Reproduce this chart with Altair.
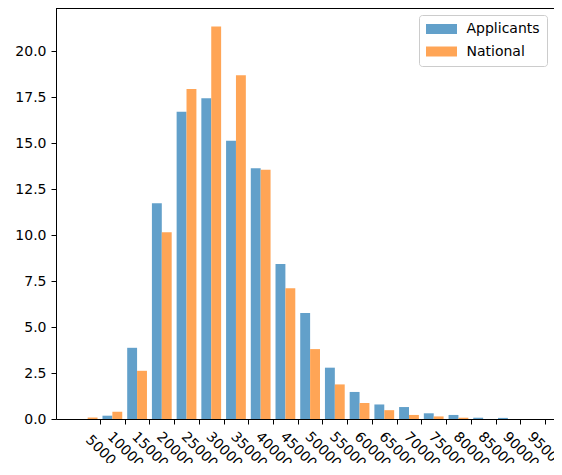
import altair as alt
import pandas as pd

# ---- data ----
bin_starts = list(range(0, 100000, 5000))
applicants = [0.0, 0.18, 3.87, 11.73, 16.70, 17.43, 15.13, 13.63, 8.42, 5.76,
              2.79, 1.47, 0.79, 0.65, 0.31, 0.22, 0.07, 0.06, 0.0, 0.0]
national = [0.08, 0.40, 2.62, 10.15, 17.94, 21.34, 18.68, 13.55, 7.11, 3.80,
            1.88, 0.87, 0.48, 0.22, 0.14, 0.07, 0.0, 0.0, 0.0, 0.0]
series_names = ["Applicants", "National"]
series_colors = ["#62a0ca", "#ffa556"]
x_tick_values = list(range(5000, 100000, 5000))
y_tick_values = [0, 2.5, 5, 7.5, 10, 12.5, 15, 17.5, 20]

rows = []
for i, s in enumerate(bin_starts):
    rows.append({"series": series_names[0], "start": s, "value": applicants[i], "slot": 0})
    rows.append({"series": series_names[1], "start": s, "value": national[i], "slot": 1})
df = pd.DataFrame(rows)

FONT = "DejaVu Sans"
W, H = 498, 411

bars = alt.Chart(df).transform_calculate(
    x0="datum.start + 5000 * (0.1 + 0.4 * datum.slot)",
    x1="datum.start + 5000 * (0.5 + 0.4 * datum.slot)",
).mark_bar(strokeWidth=0).encode(
    x=alt.X(
        "x0:Q",
        scale=alt.Scale(domain=[-3900, 96830], nice=False, zero=False),
        axis=alt.Axis(
            values=x_tick_values, format="d", labelAngle=45, labelAlign="center",
            labelBaseline="middle", labelPadding=26, tickSize=5,
            title=None, grid=False, labelFlush=False, labelOverlap=False,
        ),
    ),
    x2="x1:Q",
    y=alt.Y(
        "value:Q",
        scale=alt.Scale(domain=[0, 22.34], nice=False, zero=True),
        axis=alt.Axis(values=y_tick_values, format=".1f", tickSize=5,
                      labelPadding=5, title=None, grid=False),
    ),
    y2=alt.datum(0),
    color=alt.Color(
        "series:N",
        scale=alt.Scale(domain=series_names, range=series_colors),
        legend=alt.Legend(
            title=None, orient="none", legendX=363, legendY=7,
            symbolType="M-3.1,-1H3.1V1H-3.1Z", symbolSize=100,
            symbolStrokeWidth=0, symbolOffset=8.5, labelOffset=18,
            padding=7, rowPadding=8.5,
            labelFont=FONT, labelFontSize=14, labelColor="black",
            strokeColor="#cccccc", fillColor="rgba(255,255,255,0.8)",
            cornerRadius=3,
        ),
    ),
)

top_spine = alt.Chart(df).mark_rule(color="black", strokeWidth=1).encode(
    x=alt.value(0), x2=alt.value(W), y=alt.value(0)
)

chart = alt.layer(bars, top_spine).properties(
    width=W, height=H,
    autosize=alt.AutoSizeParams(type="none"),
    padding={"left": 48, "top": 0, "right": 0, "bottom": 44},
).configure_view(stroke=None).configure_axis(
    labelFont=FONT, labelFontSize=14, labelColor="black",
    domainColor="black", tickColor="black", domainWidth=1, tickWidth=1,
)

chart.save("out.html", embed_options={"renderer": "svg", "actions": False})
